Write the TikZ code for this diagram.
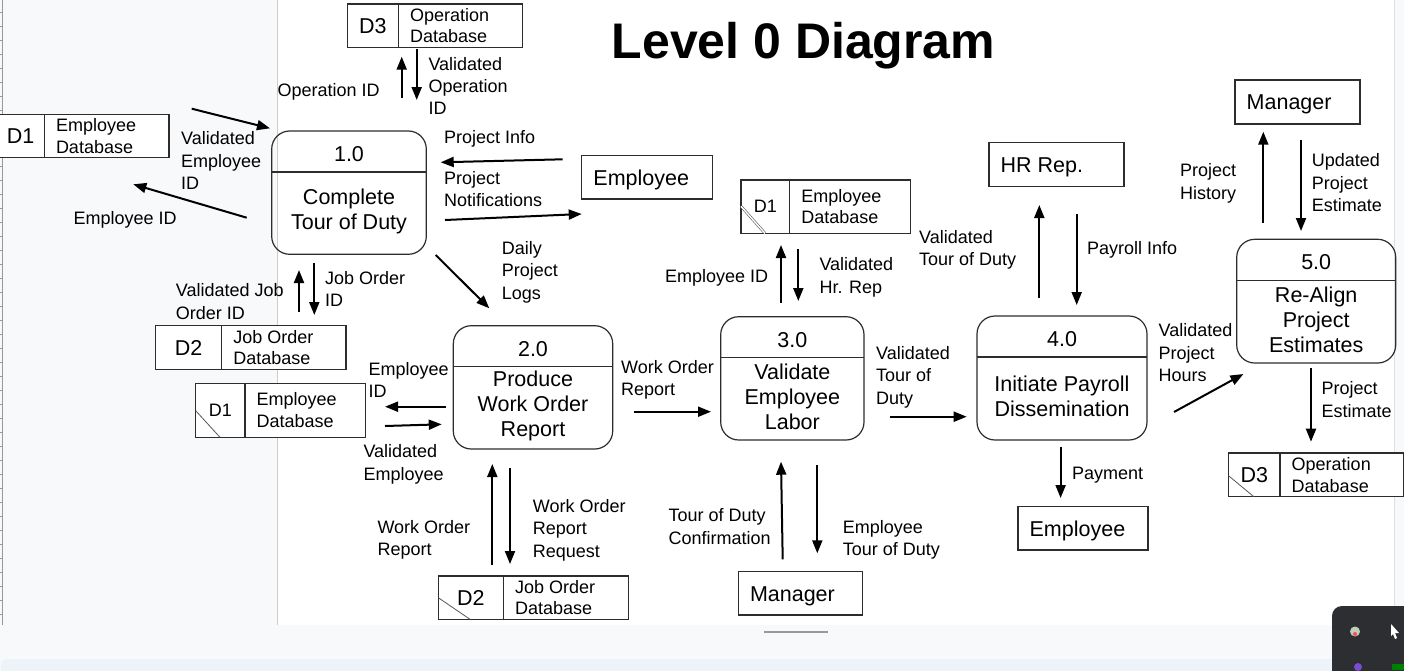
\documentclass[tikz,border=0pt]{standalone}
\usepackage{fontspec}
\setmainfont{Liberation Sans}
\usetikzlibrary{arrows.meta}
\definecolor{edge}{RGB}{45,45,45}
\definecolor{panelbg}{RGB}{248,249,251}
\definecolor{bandbg}{RGB}{238,242,249}
\definecolor{widget}{RGB}{45,46,49}
\newcommand{\lblfont}{\fontsize{18}{22.3}\selectfont}
\newcommand{\storefont}{\fontsize{18}{21.5}\selectfont}
\newcommand{\boxfont}{\fontsize{21.5}{25.2}\selectfont}
\newcommand{\smallid}{\fontsize{18}{20}\selectfont}
\newcommand{\proc}[6]{%
  \node[procbox, minimum width=#3, minimum height=#4, anchor=north west] (#1) at #2 {};
  \draw[boxline] ([yshift=-41pt]#1.north west) -- ([yshift=-41pt]#1.north east);
  \node[procnum] (#1-num) at ([yshift=-23pt]#1.north) {#5};
  \node[proctxt] (#1-txt) at ([yshift={(#4-41)/2+2}]#1.south) {#6};}
\newcommand{\store}[7]{%
  \node[storebox, minimum width=#3, minimum height=#4, anchor=north west] (#1) at #2 {};
  \draw[boxline] ([xshift=#5]#1.north west) -- ([xshift=#5]#1.south west);
  \node[storeid] (#1-id) at ([xshift={#5/2}]#1.west) {#6};
  \node[storelbl] (#1-lbl) at ([xshift={#5+11.5}]#1.west) {#7};}
\newcommand{\ent}[5]{%
  \node[entbox, minimum width=#3, minimum height=#4, anchor=north west] (#1) at #2 {};
  \node[enttxt] (#1-txt) at ([xshift=11.5pt, yshift=-7.7pt]#1.west) {#5};}
\begin{document}
\begin{tikzpicture}[x=1pt, y=-1pt,
    boxline/.style={draw=edge, line width=1.2pt},
    procbox/.style={boxline, rounded corners=18pt, inner sep=0pt, outer sep=0pt},
    storebox/.style={boxline, fill=white, inner sep=0pt, outer sep=0pt},
    entbox/.style={boxline, fill=white, inner sep=0pt, outer sep=0pt},
    procnum/.style={font=\boxfont, inner sep=0pt},
    proctxt/.style={font=\boxfont, align=center, inner sep=0pt},
    storeid/.style={font=\boxfont, inner sep=0pt},
    storelbl/.style={font=\storefont, align=left, anchor=west, inner sep=0pt},
    enttxt/.style={font=\boxfont, anchor=base west, inner sep=0pt},
    lbl/.style={font=\lblfont, align=left, anchor=north west, inner sep=0pt},
    flow/.style={line width=2pt, -{Triangle[length=13pt, width=10pt]}},
    slash/.style={draw=edge!80, line width=0.8pt}]
    \useasboundingbox (0,0) rectangle (1404,670);
    % screen around the canvas
    \fill[panelbg] (0,0) rectangle (1404,670);
    \fill[white] (277.3,0) rectangle (1394,625);
    \draw[gray!40] (277.3,0) -- (277.3,625);
    \draw[gray!25] (1394,0) -- (1394,625);
    \draw[gray!80] (2.3,0) -- (2.3,625);
    \foreach \t in {12,26,...,620} \draw[gray!80] (0,\t) -- (2.3,\t);
    \fill[bandbg, rounded corners=6pt] (1,659) rectangle (1420,690);
    \draw[gray!80, line width=2pt] (764,631.5) -- (828,631.5);
    \fill[widget, rounded corners=10pt] (1332,606) rectangle (1420,690);
    \fill[green!15!gray!45] (1355,631.5) circle (5);
    \fill[red!70] (1355,634) circle (2);
    \fill[white] (1391,624) -- (1399,633) -- (1395,633) -- (1397,638) -- (1395,639) -- (1393,634) -- (1391,636) -- cycle;
    \fill[blue!50!violet!70] (1358,667) circle (4);
    \fill[green!50!black] (1392,664) rectangle (1404,670);

    \node[font=\fontsize{50}{60}\selectfont\bfseries, anchor=base] (title) at (803.5,58) {Level 0 Diagram};

    \proc{p1}{(271.7,131)}{154.6}{123.3}{1.0}{Complete\\Tour of Duty}
    \proc{p2}{(453.3,325.7)}{159.4}{123.3}{2.0}{Produce\\Work Order\\Report}
    \proc{p3}{(720.7,316.7)}{143.3}{123.3}{3.0}{Validate\\Employee\\Labor}
    \proc{p4}{(977,316)}{170}{124}{4.0}{Initiate Payroll\\Dissemination}
    \proc{p5}{(1236.7,239.3)}{159}{123.7}{5.0}{Re-Align\\Project\\Estimates}

    \store{d3a}{(347.3,4)}{175}{43.3}{51}{D3}{Operation\\Database}
    \store{d1a}{(-3,114.3)}{172}{43.4}{47.3}{D1}{Employee\\Database}
    \store{d2a}{(155.7,325.7)}{190.3}{43.6}{66}{D2}{Job Order\\Database}
    \store{d1b}{(195.7,383.3)}{170}{54}{49.3}{\smallid D1}{Employee\\Database}
    \store{d1c}{(741,180)}{169.7}{53.3}{48.7}{\smallid D1}{Employee\\Database}
    \store{d2b}{(438.3,576)}{190}{43.3}{65}{D2}{Job Order\\Database}
    \store{d3b}{(1228.5,453)}{175}{43.7}{51.5}{D3}{Operation\\Database}
    \draw[slash] ([yshift=26.6pt]d1b.south west) -- ([xshift=24.3pt]d1b.south west);
    \draw[slash, double=white, double distance=1.4pt, line width=0.6pt] ([yshift=27pt]d1c.south west) -- ([xshift=24pt]d1c.south west);
    \draw[slash] ([yshift=21.6pt]d2b.south west) -- ([xshift=31.7pt]d2b.south west);
    \draw[slash] ([yshift=21pt]d3b.south west) -- ([xshift=25.3pt]d3b.south west);

    \ent{emp1}{(581.7,155.7)}{130.6}{43.3}{Employee}
    \ent{hr}{(989,142.3)}{135}{44.4}{HR Rep.}
    \ent{mgr1}{(1235,80)}{125}{44}{Manager}
    \ent{mgr2}{(738.3,571.7)}{124}{43.3}{Manager}
    \ent{emp2}{(1017.9,506.7)}{130}{43.3}{Employee}

    \foreach \n/\xa/\ya/\xb/\yb in {opid/401.7/98/401.7/56.7, valopid/416.7/49.3/416.7/100,
        valempid/191.7/108.7/270/128.3, empid1/246.7/217.7/133.3/184.3,
        projinfo/562.7/159.3/440.7/162.3, projnotif/445/220/581.7/214,
        daily/435.7/255/489.3/308.3, valjob/299/312.3/299/270, joborder/314.3/263.3/314.3/315,
        empid2/446/406.7/385/406.7, valemp/385/426/441.7/424.3,
        worup/492.3/565/492.3/464, worreq/510/468.3/510/564, wor/634.3/411.7/711/411.7,
        empid3/781/302.7/781/245, valhr/798.3/249/798.3/301,
        todconf/782.7/559.3/781/461.7, emptod/817.3/465/817.3/553.3,
        valtod/890/416.7/966.7/416.7, hrup/1039.3/297.7/1039.3/205, payroll/1076.7/214/1076.7/305,
        payment/1060.6/446.7/1060.6/498, valhours/1174/412/1243.4/374,
        projhist/1263.3/223/1263.3/131.7, updest/1301/140/1301/231, projest/1311/368/1311/441.7} {
      \coordinate (\n-s) at (\xa,\ya);
      \coordinate (\n-e) at (\xb,\yb);
      \draw[flow] (\n-s) -- (\n-e);
    }

    \node[lbl] (l-opid) at (277.3,83.5) {Operation ID};
    \node[lbl] (l-valopid) at (428.3,56.8) {Validated\\Operation\\ID};
    \node[lbl] (l-valempid) at (181,131.5) {Validated\\Employee\\ID};
    \node[lbl] (l-empid1) at (73.3,211.2) {Employee ID};
    \node[lbl] (l-projinfo) at (444,130.2) {Project Info};
    \node[lbl] (l-projnotif) at (444,170.8) {Project\\Notifications};
    \node[lbl] (l-daily) at (501.7,241.2) {Daily\\Project\\Logs};
    \node[lbl] (l-valjob) at (175.7,283.5) {Validated Job\\Order ID};
    \node[lbl] (l-joborder) at (325,271.2) {Job Order\\ID};
    \node[lbl] (l-empid2) at (368.3,361.8) {Employee\\ID};
    \node[lbl] (l-valemp) at (363.3,444.5) {Validated\\Employee};
    \node[lbl] (l-worup) at (377.3,520.2) {Work Order\\Report};
    \node[lbl] (l-worreq) at (532.7,499.2) {Work Order\\Report\\Request};
    \node[lbl] (l-wor) at (621,360.2) {Work Order\\Report};
    \node[lbl] (l-empid3) at (665,269.5) {Employee ID};
    \node[lbl] (l-valhr) at (819.3,257.5) {Validated\\Hr. Rep};
    \node[lbl] (l-todconf) at (668.3,508.5) {Tour of Duty\\Confirmation};
    \node[lbl] (l-emptod) at (842.7,520.2) {Employee\\Tour of Duty};
    \node[lbl] (l-valtod) at (876,346.2) {Validated\\Tour of\\Duty};
    \node[lbl] (l-valtodhr) at (919,230.2) {Validated\\Tour of Duty};
    \node[lbl] (l-payroll) at (1087,241.2) {Payroll Info};
    \node[lbl] (l-payment) at (1072,466.5) {Payment};
    \node[lbl] (l-valhours) at (1158.4,323.5) {Validated\\Project\\Hours};
    \node[lbl] (l-projhist) at (1180,163.5) {Project\\History};
    \node[lbl] (l-updest) at (1311.7,153.5) {Updated\\Project\\Estimate};
    \node[lbl] (l-projest) at (1321.5,381.5) {Project\\Estimate};
\end{tikzpicture}
\end{document}
